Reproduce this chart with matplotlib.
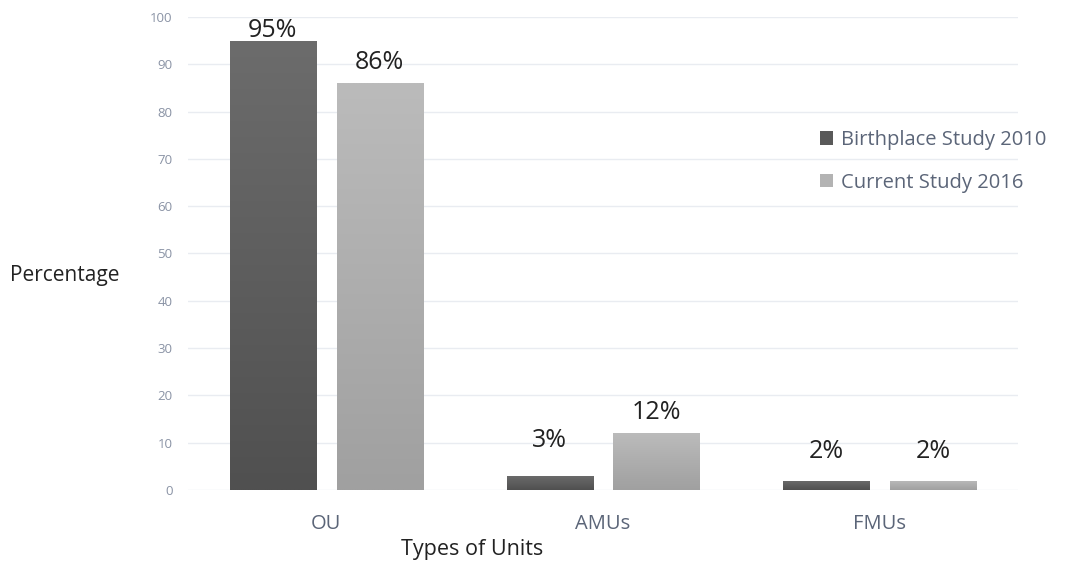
import numpy as np
import matplotlib
matplotlib.use("Agg")
import matplotlib.pyplot as plt
from matplotlib.colors import LinearSegmentedColormap
from matplotlib.patches import Patch

plt.rcParams['font.family'] = ['Open Sans', 'DejaVu Sans']

categories = ["OU", "AMUs", "FMUs"]
series_names = ["Birthplace Study 2010", "Current Study 2016"]
birthplace_2010 = [95, 3, 2]
current_2016 = [86, 12, 2]
y_ticks = [0, 10, 20, 30, 40, 50, 60, 70, 80, 90, 100]

# label lift above each bar, in pixels: [series][category]
label_lift = [[10, 35, 29], [21, 21, 29]]

# top -> bottom gradient colours per series
gradients = [("#6c6c6c", "#505050"), ("#bbbbbb", "#a0a0a0")]
legend_colors = ["#595959", "#b3b3b3"]

W, H = 1066, 565
fig = plt.figure(figsize=(W / 100, H / 100), dpi=100)
ax = fig.add_axes([188 / W, 1 - 490 / H, (1018 - 188) / W, (490 - 17) / H])

x = np.arange(len(categories))
width = 0.311
offset = 0.193

for s, (vals, (ctop, cbot)) in enumerate(zip([birthplace_2010, current_2016], gradients)):
    pos = x + (offset if s else -offset)
    bars = ax.bar(pos, vals, width, facecolor="none", edgecolor="none", zorder=3)
    cmap = LinearSegmentedColormap.from_list(f"g{s}", [cbot, ctop])
    grad = np.linspace(0, 1, 256).reshape(-1, 1)
    for b, v, lift in zip(bars, vals, label_lift[s]):
        bx, by = b.get_x(), b.get_y()
        im = ax.imshow(grad, cmap=cmap, aspect="auto", origin="lower",
                       extent=(bx, bx + b.get_width(), by, by + b.get_height()),
                       zorder=3, interpolation="bilinear")
        im.set_clip_path(b)
        ax.annotate(f"{v}%", (bx + b.get_width() / 2, v), xytext=(0, lift),
                    textcoords="offset pixels", ha="center", va="center",
                    fontsize=18, color="#222222", zorder=5, annotation_clip=False)

ax.set_xlim(-0.5, 2.5)
ax.set_ylim(0, 100)
ax.set_yticks(y_ticks)
ax.set_xticks(x)
ax.set_xticklabels(categories)
ax.tick_params(axis="y", length=0, pad=11, labelsize=9.5, labelcolor="#8a93a5")
ax.tick_params(axis="x", length=0, pad=17, labelsize=14.5, labelcolor="#5b6578")
ax.grid(axis="y", color="#e9ecf1", linewidth=1, zorder=0)
ax.set_axisbelow(True)
for sp in ax.spines.values():
    sp.set_visible(False)

fig.text(10 / W, 1 - 275 / H, "Percentage", fontsize=15, color="#222222",
         ha="left", va="center")
fig.text(472 / W, 1 - 549 / H, "Types of Units", fontsize=15.5, color="#222222",
         ha="center", va="center")

handles = [Patch(facecolor=c, edgecolor="none") for c in legend_colors]
fig.legend(handles, series_names, loc="upper left",
           bbox_to_anchor=(810 / W, 1 - 120 / H), frameon=False,
           fontsize=14.5, labelcolor="#5b6578", handlelength=0.65,
           handleheight=0.65, handletextpad=0.4, labelspacing=1.12,
           borderpad=0)

fig.savefig("out.png", dpi=100)
